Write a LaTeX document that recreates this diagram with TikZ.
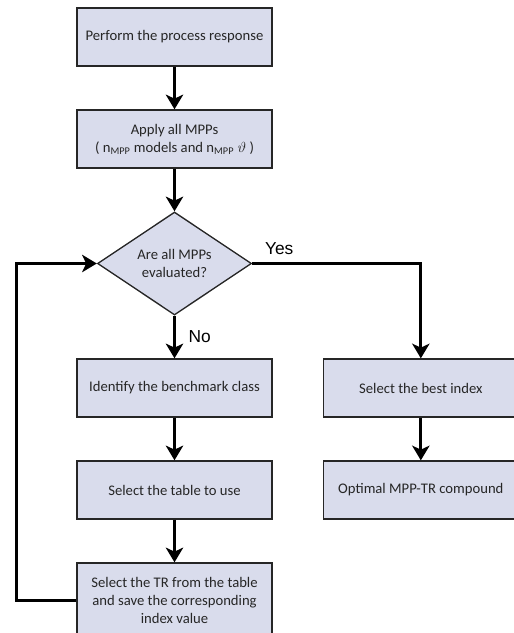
\documentclass[tikz,border=0pt]{standalone}
\usepackage{fontspec}
\setmainfont{Carlito}
\newfontfamily\labelfont{Liberation Sans}
\usetikzlibrary{arrows.meta,positioning,shapes.geometric}
\definecolor{boxfill}{HTML}{D9DCEC}
\definecolor{boxline}{HTML}{262626}

\begin{document}
\begin{tikzpicture}[
    x=0.75pt,y=-0.75pt,
    node distance=32pt,
    block/.style={draw=boxline,line width=1pt,fill=boxfill,minimum width=146.25pt,minimum height=43.5pt,align=center,text=boxline,font=\fontsize{11}{13.5}\selectfont},
    decision/.style={diamond,draw=boxline,line width=1pt,fill=boxfill,minimum width=115.5pt,minimum height=77.25pt,inner sep=0pt,align=center,text=boxline,font=\fontsize{11}{13.5}\selectfont},
    arr/.style={-{Stealth[length=11pt,width=13pt,inset=3pt]},line width=2.4pt},
    lbl/.style={font=\labelfont\fontsize{13}{15}\selectfont}
]
\useasboundingbox (0,0) rectangle (514,633);

% main column
\node[block] (resp) at (174.5,37) {Perform the process response};
\node[block,below=of resp] (apply) {Apply all MPPs\\( n\textsubscript{MPP} models and n\textsubscript{MPP} $\vartheta$ )};
\node[decision,below=of apply] (eval) {Are all MPPs\\evaluated?};
\node[block,below=of eval] (ident) {Identify the benchmark class};
\node[block,below=of ident] (table) {Select the table to use};
\node[block,below=of table,minimum height=56pt] (tr) {Select the TR from the table\\and save the corresponding\\index value};

% right column
\node[block,right=37.5pt of ident] (best) {Select the best index};
\node[block,below=of best] (optimal) {Optimal MPP-TR compound};

\draw[arr] (resp) -- (apply);
\draw[arr] (apply) -- (eval);
\draw[arr] (eval) -- node[lbl,right,xshift=6pt] {No} (ident);
\draw[arr] (ident) -- (table);
\draw[arr] (table) -- (tr);
\draw[arr] (best) -- (optimal);

% branch to the right, loop back on the left
\draw[arr] (eval.east) -| node[lbl,pos=0.08,above,yshift=2pt] {Yes} (best.north);
\draw[arr] (tr.west) -- ++(-60,0) |- (eval.west);
\end{tikzpicture}
\end{document}
